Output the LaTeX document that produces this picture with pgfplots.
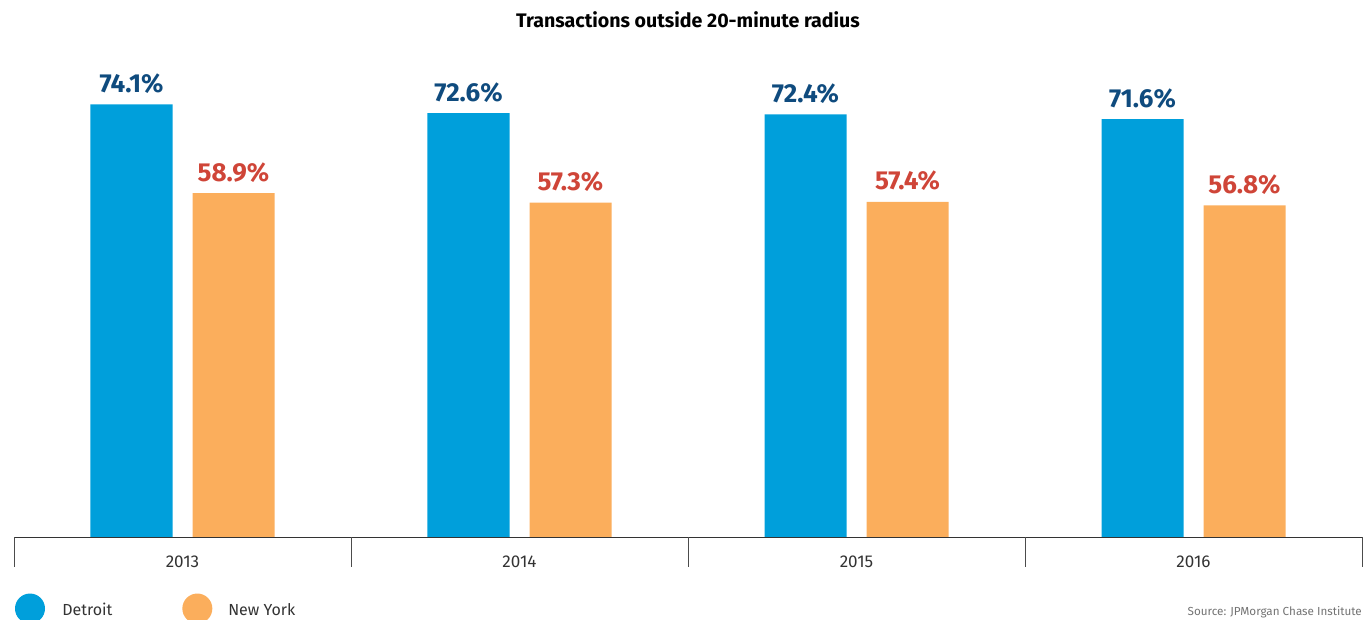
\documentclass[border=0pt]{standalone}
\usepackage{pgfplots}
\pgfplotsset{compat=1.18}
\usepackage{fontspec}
\setmainfont{Fira Sans}
\definecolor{detblue}{HTML}{009FDB}
\definecolor{nyorange}{HTML}{FBAE5C}
\definecolor{detlab}{HTML}{0F4B7E}
\definecolor{nylab}{HTML}{CF4538}
\definecolor{txtgray}{HTML}{333333}
\begin{document}
\begin{tikzpicture}
\useasboundingbox (0,0) rectangle (1024.5pt,465pt);
\begin{axis}[
  at={(10.5pt,62.25pt)}, anchor=south west,
  scale only axis, width=1011pt, height=350.25pt,
  xmin=-0.5, xmax=3.5, ymin=0, ymax=80,
  axis y line=none,
  axis x line*=bottom,
  x axis line style={draw=black!80, line width=0.6pt, -},
  xtick={0,1,2,3},
  xticklabels={2013,2014,2015,2016},
  major tick length=0pt,
  xticklabel style={font=\fontsize{12.8}{14}\selectfont, text=txtgray, yshift=-11pt},
  extra x ticks={-0.5,0.5,1.5,2.5,3.5},
  extra x tick labels={},
  extra x tick style={tick align=outside, major tick length=22.5pt, tick style={draw=black!70, line width=0.6pt}},
  ybar, bar width=61.5pt,
  clip=false,
  /pgf/number format/assume math mode=true,
  nodes near coords={\pgfmathprintnumber[fixed,precision=1,fixed zerofill,assume math mode=true]{\pgfplotspointmeta}\%},
  every node near coord/.append style={font=\bfseries\fontsize{19.5}{21}\selectfont, anchor=base, inner sep=0pt, yshift=9pt},
]
\addplot[fill=detblue, draw=none, bar shift=-38.25pt, every node near coord/.append style={text=detlab}] coordinates {(0,74.1) (1,72.6) (2,72.4) (3,71.6)};
\addplot[fill=nyorange, draw=none, bar shift=38.25pt, every node near coord/.append style={text=nylab}] coordinates {(0,58.9) (1,57.3) (2,57.4) (3,56.8)};
\end{axis}
\node[font=\bfseries\fontsize{14.7}{16}\selectfont, text=black] at (516pt,450pt) {Transactions outside 20-minute radius};
\fill[detblue] (22.5pt,8.6pt) circle (11.25pt);
\node[anchor=base west, font=\fontsize{12}{14}\selectfont, text=txtgray, inner sep=0pt] at (46.5pt,3pt) {Detroit};
\fill[nyorange] (148pt,8.6pt) circle (11.25pt);
\node[anchor=base west, font=\fontsize{12}{14}\selectfont, text=txtgray, inner sep=0pt] at (171pt,3pt) {New York};
\node[anchor=base east, font=\fontsize{8.75}{10}\selectfont, text=black!55, inner sep=0pt] at (1021.5pt,3pt) {Source: JPMorgan Chase Institute};
\end{tikzpicture}
\end{document}
